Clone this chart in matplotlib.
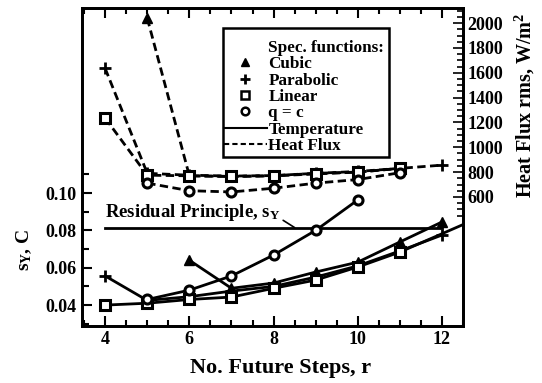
import numpy as np
import matplotlib
matplotlib.use("Agg")
import matplotlib.pyplot as plt
from matplotlib.lines import Line2D
from matplotlib.patches import Rectangle
from matplotlib.ticker import MultipleLocator, FixedLocator

plt.rcParams['font.family'] = ['Liberation Serif', 'DejaVu Serif']
plt.rcParams['font.weight'] = 'bold'
plt.rcParams['mathtext.fontset'] = 'custom'
plt.rcParams['mathtext.rm'] = 'Liberation Serif:bold'
plt.rcParams['mathtext.it'] = 'Liberation Serif:bold'
plt.rcParams['mathtext.bf'] = 'Liberation Serif:bold'

# temperature rms error s_Y (C) vs number of future steps
cubic_r_T = [6, 7, 8, 9, 10, 11, 12]
cubic_T = [0.064, 0.049, 0.0518, 0.0577, 0.063, 0.0738, 0.0845]
parab_r_T = [4, 5, 6, 7, 8, 9, 10, 11, 12]
parab_T = [0.0556, 0.0425, 0.0445, 0.0475, 0.050, 0.055, 0.061, 0.069, 0.0775]
lin_r_T = [4, 5, 6, 7, 8, 9, 10, 11, 13]
lin_T = [0.040, 0.041, 0.043, 0.0443, 0.049, 0.0534, 0.0604, 0.0684, 0.088]
qc_r_T = [5, 6, 7, 8, 9, 10]
qc_T = [0.043, 0.048, 0.0556, 0.0668, 0.080, 0.0963]

# heat flux rms error (W/m^2)
cubic_r_q = [5, 6, 7, 8, 9, 10, 11]
cubic_q = [2040, 770, 765, 770, 790, 800, 830]
parab_r_q = [4, 5, 6, 7, 8, 9, 10, 11, 12]
parab_q = [1635, 790, 775, 768, 772, 790, 805, 830, 856]
lin_r_q = [4, 5, 6, 7, 8, 9, 10, 11]
lin_q = [1235, 775, 770, 765, 770, 785, 800, 830]
qc_r_q = [5, 6, 7, 8, 9, 10, 11]
qc_q = [711, 650, 640, 670, 711, 740, 795]

residual_r = [4, 12]
residual_sY = [0.0815, 0.0815]

W, H = 542, 383
fig = plt.figure(figsize=(W / 100, H / 100), dpi=100)
ax = fig.add_axes([0.1513, 0.1488, 0.703, 0.830])
ax2 = ax.twinx()

lw = 2.0
dash = (3, 1.6)
styles = {
    'cubic': dict(marker='^', ms=6.5, mfc='k', mec='k'),
    'parab': dict(marker='+', ms=8, mew=2, mec='k'),
    'lin': dict(marker='s', ms=6.5, mfc='white', mec='k', mew=2.2),
    'qc': dict(marker='o', ms=6.5, mfc='white', mec='k', mew=2.2),
}

ax.plot(residual_r, residual_sY, color='k', lw=lw)
ax.plot(cubic_r_T, cubic_T, color='k', lw=lw, **styles['cubic'])
ax.plot(parab_r_T, parab_T, color='k', lw=lw, **styles['parab'])
ax.plot(lin_r_T, lin_T, color='k', lw=lw, **styles['lin'])
ax.plot(qc_r_T, qc_T, color='k', lw=lw, **styles['qc'])

ax2.plot(cubic_r_q, cubic_q, color='k', lw=lw, dashes=dash, **styles['cubic'])
ax2.plot(parab_r_q, parab_q, color='k', lw=lw, dashes=dash, **styles['parab'])
ax2.plot(lin_r_q, lin_q, color='k', lw=lw, dashes=dash, **styles['lin'])
ax2.plot(qc_r_q, qc_q, color='k', lw=lw, dashes=dash, **styles['qc'])

ax.annotate(r'Residual Principle, $s_Y$', xy=(8.5, 0.0815), xytext=(4.0, 0.0897),
            fontsize=13.5, fontweight='bold', va='center', ha='left',
            arrowprops=dict(arrowstyle='-', color='k', lw=1.2,
                            shrinkA=0, shrinkB=0,
                            relpos=(1.0, 0.2)))

ax.set_xlim(3.45, 12.5)
ax.set_ylim(0.0288, 0.199)
ax2.set_ylim(-440, 2121)

ax.xaxis.set_major_locator(MultipleLocator(2))
ax.xaxis.set_minor_locator(MultipleLocator(0.5))
ax.yaxis.set_major_locator(FixedLocator([0.04, 0.06, 0.08, 0.10]))
ax.yaxis.set_minor_locator(FixedLocator([0.03, 0.05, 0.07, 0.09, 0.11]))
ax.set_yticklabels(['0.04', '0.06', '0.08', '0.10'])
ax2.yaxis.set_major_locator(FixedLocator(np.arange(600, 2001, 200)))
ax2.yaxis.set_minor_locator(FixedLocator(np.arange(450, 2101, 50)))

ax.tick_params(axis='x', which='both', direction='in', top=True, labelsize=13, width=1.5)
ax.tick_params(axis='x', which='major', length=7)
ax.tick_params(axis='x', which='minor', length=4)
ax.tick_params(axis='y', which='both', direction='in', labelsize=13, width=1.5, pad=4)
ax.tick_params(axis='y', which='major', length=7)
ax.tick_params(axis='y', which='minor', length=5)
ax2.tick_params(axis='y', which='both', direction='in', labelsize=13, width=1.2, pad=3)
ax2.tick_params(axis='y', which='major', length=7)
ax2.tick_params(axis='y', which='minor', length=4)

for a in (ax, ax2):
    for s in a.spines.values():
        s.set_linewidth(2)

ax.set_xlabel('No. Future Steps, r', fontsize=16, fontweight='bold')
ax.xaxis.set_label_coords(0.52, -0.1)
ax.set_ylabel(r'$s_Y$, C', fontsize=14, fontweight='bold')
ax.yaxis.set_label_coords(-0.125, 0.24)
ax2.set_ylabel(r'Heat Flux rms, W/m$^2$', fontsize=14.5, fontweight='bold')
ax2.yaxis.set_label_coords(1.13, 0.695)

handles = [
    Line2D([], [], linestyle='none', marker=None),
    Line2D([], [], linestyle='none', color='k', marker='^', ms=5.5),
    Line2D([], [], linestyle='none', color='k', marker='+', ms=7, mew=2),
    Line2D([], [], linestyle='none', color='k', marker='s', ms=5.5, mfc='white', mew=1.8),
    Line2D([], [], linestyle='none', color='k', marker='o', ms=5.5, mfc='white', mew=1.8),
    Line2D([], [], color='k', lw=1.5),
    Line2D([], [], color='k', lw=1.5, dashes=(2.5, 1.5)),
]
labels = ['Spec. functions:', 'Cubic', 'Parabolic', 'Linear', 'q = c',
          'Temperature', 'Heat Flux']
leg = ax2.legend(handles, labels, loc='upper left',
                 bbox_to_anchor=(224 / W, 1 - 40 / H),
                 bbox_transform=fig.transFigure, fontsize=12.3, frameon=False,
                 handlelength=2.5, handletextpad=0.1, labelspacing=0.02,
                 borderpad=0, borderaxespad=0)

# legend frame, a bit more room above the heading than below the last entry
fig.patches.append(Rectangle((223 / W, 1 - 157 / H), 166 / W, 129 / H,
                             transform=fig.transFigure, fill=False,
                             edgecolor='k', lw=1.8))

fig.savefig('out.png', dpi=100)
